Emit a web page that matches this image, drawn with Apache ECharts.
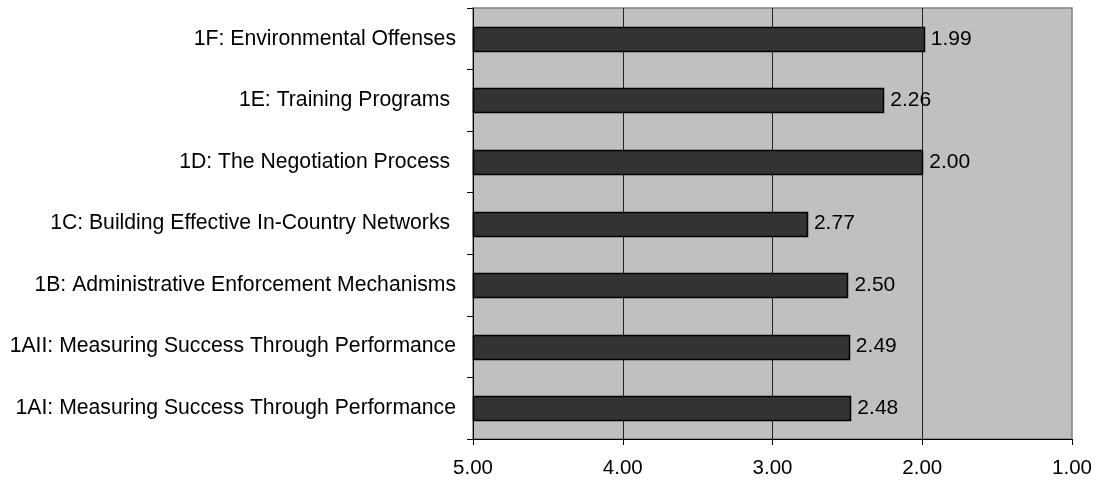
<!DOCTYPE html>
<html>
<head>
<meta charset="utf-8">
<script src="https://cdn.jsdelivr.net/npm/echarts@6/dist/echarts.min.js"></script>
<style>
  html, body { margin: 0; padding: 0; background: #ffffff; }
  #chart { width: 1102px; height: 482px; }
</style>
</head>
<body>
<div id="chart"></div>
<script>
const categories = [
  '1F: Environmental Offenses',
  '1E: Training Programs ',
  '1D: The Negotiation Process ',
  '1C: Building Effective In-Country Networks ',
  '1B: Administrative Enforcement Mechanisms',
  '1AII: Measuring Success Through Performance',
  '1AI: Measuring Success Through Performance'
];
const scores = [1.99, 2.26, 2.00, 2.77, 2.50, 2.49, 2.48];
const scaleMin = 1;
const scaleMax = 5;
const scaleStep = 1;

const FONT = '"Liberation Sans", Arial, sans-serif';
const chart = echarts.init(document.getElementById('chart'), null, { renderer: 'canvas' });

const seriesData = scores.map((v, i) => [v, i]);

chart.setOption({
  backgroundColor: '#ffffff',
  animation: false,
  grid: {
    left: 473, right: 30, top: 8, bottom: 43,
    containLabel: false,
    outerBoundsMode: 'none',
    show: true,
    backgroundColor: '#C0C0C0',
    borderColor: '#808080',
    borderWidth: 1.5
  },
  xAxis: {
    type: 'value',
    min: scaleMin,
    max: scaleMax,
    interval: scaleStep,
    inverse: true,
    axisLine: { show: true, lineStyle: { color: '#000', width: 1 } },
    axisTick: { show: true, inside: false, length: 6, lineStyle: { color: '#000', width: 1 } },
    axisLabel: {
      margin: 19,
      color: '#000',
      fontSize: 20.5,
      fontFamily: FONT,
      formatter: v => v.toFixed(2)
    },
    splitLine: {
      show: true,
      showMinLine: false,
      showMaxLine: false,
      lineStyle: { color: '#222', width: 1 }
    }
  },
  yAxis: {
    type: 'category',
    data: categories,
    inverse: true,
    axisLine: { show: true, lineStyle: { color: '#000', width: 1 } },
    axisTick: { show: true, inside: false, length: 6, alignWithLabel: false, lineStyle: { color: '#000', width: 1 } },
    axisLabel: {
      margin: 17,
      color: '#000',
      fontSize: 21.2,
      fontFamily: FONT
    },
    splitLine: { show: false }
  },
  series: [{
    type: 'custom',
    data: seriesData,
    encode: { x: 0, y: 1 },
    clip: false,
    renderItem: function (params, api) {
      const v = api.value(0);
      const c = api.value(1);
      const p0 = api.coord([scaleMax, c]);
      const p1 = api.coord([v, c]);
      const bh = Math.round(api.size([0, 1])[1] * 0.39);
      const x0 = Math.round(Math.min(p0[0], p1[0])) + 0.5;
      const x1 = Math.round(Math.max(p0[0], p1[0])) + 0.5;
      const y0 = Math.round(p0[1] - bh / 2) + 0.5;
      return {
        type: 'group',
        children: [
          {
            type: 'rect',
            shape: { x: x0, y: y0, width: x1 - x0, height: bh },
            style: { fill: '#333333', stroke: '#000000', lineWidth: 1.5 }
          },
          {
            type: 'text',
            x: p1[0] + 7,
            y: p1[1],
            style: {
              text: v.toFixed(2),
              fill: '#000',
              font: '21px ' + FONT,
              align: 'left',
              verticalAlign: 'middle'
            }
          }
        ]
      };
    }
  }]
});
</script>
</body>
</html>
